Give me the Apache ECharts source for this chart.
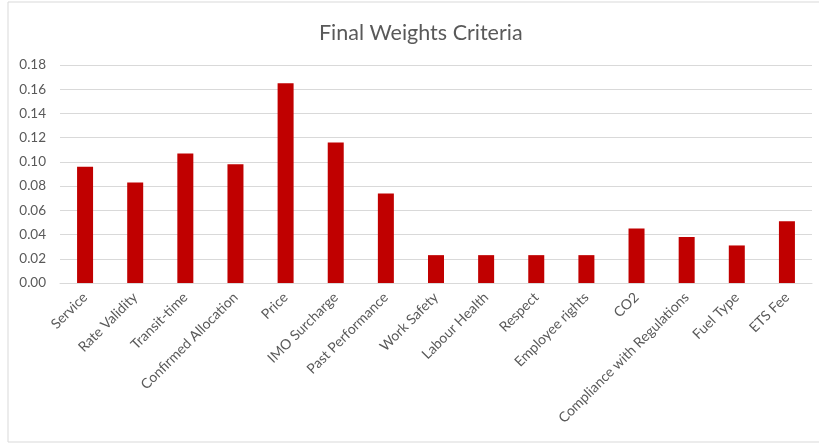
<!DOCTYPE html>
<html>
<head>
<meta charset="utf-8">
<script src="https://cdn.jsdelivr.net/npm/echarts@6/dist/echarts.min.js"></script>
<style>
  html, body { margin: 0; padding: 0; background: #ffffff; }
  #chart { width: 819px; height: 444px; }
</style>
</head>
<body>
<div id="chart"></div>
<script>
// Criteria and their final weights
const criteria = [
  'Service', 'Rate Validity', 'Transit-time', 'Confirmed Allocation', 'Price',
  'IMO Surcharge', 'Past Performance', 'Work Safety', 'Labour Health', 'Respect',
  'Employee rights', 'CO2', 'Compliance with Regulations', 'Fuel Type', 'ETS Fee'
];
const weights = [
  0.096, 0.083, 0.107, 0.098, 0.165,
  0.116, 0.074, 0.023, 0.023, 0.023,
  0.023, 0.045, 0.038, 0.031, 0.051
];
const yTicks = { min: 0, max: 0.18, step: 0.02 };

const textColor = '#595959';
const fontFamily = 'Lato, "Liberation Sans", sans-serif';

const chart = echarts.init(document.getElementById('chart'), null, { renderer: 'canvas' });
chart.setOption({
  animation: false,
  backgroundColor: '#ffffff',
  graphic: [{
    type: 'rect',
    shape: { x: 8, y: 2, width: 830, height: 440 },
    style: { fill: 'none', stroke: '#d9d9d9', lineWidth: 1 },
    silent: true
  }],
  title: {
    text: 'Final Weights Criteria',
    left: 314,
    top: 17,
    textStyle: { color: textColor, fontFamily: fontFamily, fontSize: 21.5, fontWeight: 'normal' }
  },
  grid: { left: 60, right: 7, top: 65, bottom: 161, containLabel: false },
  xAxis: {
    type: 'category',
    data: criteria,
    axisLine: { show: true, lineStyle: { color: '#d9d9d9', width: 1 } },
    axisTick: { show: false },
    axisLabel: {
      rotate: 45,
      interval: 0,
      margin: 12,
      color: textColor,
      fontFamily: fontFamily,
      fontSize: 14
    }
  },
  yAxis: {
    type: 'value',
    min: yTicks.min,
    max: yTicks.max,
    interval: yTicks.step,
    axisLine: { show: false },
    axisTick: { show: false },
    splitLine: { lineStyle: { color: '#d9d9d9', width: 1 } },
    axisLabel: {
      margin: 14,
      color: textColor,
      fontFamily: fontFamily,
      fontSize: 13.5,
      formatter: v => v.toFixed(2)
    }
  },
  series: [{
    type: 'bar',
    data: weights,
    barWidth: 16,
    itemStyle: { color: '#c00000' }
  }]
});
</script>
</body>
</html>
